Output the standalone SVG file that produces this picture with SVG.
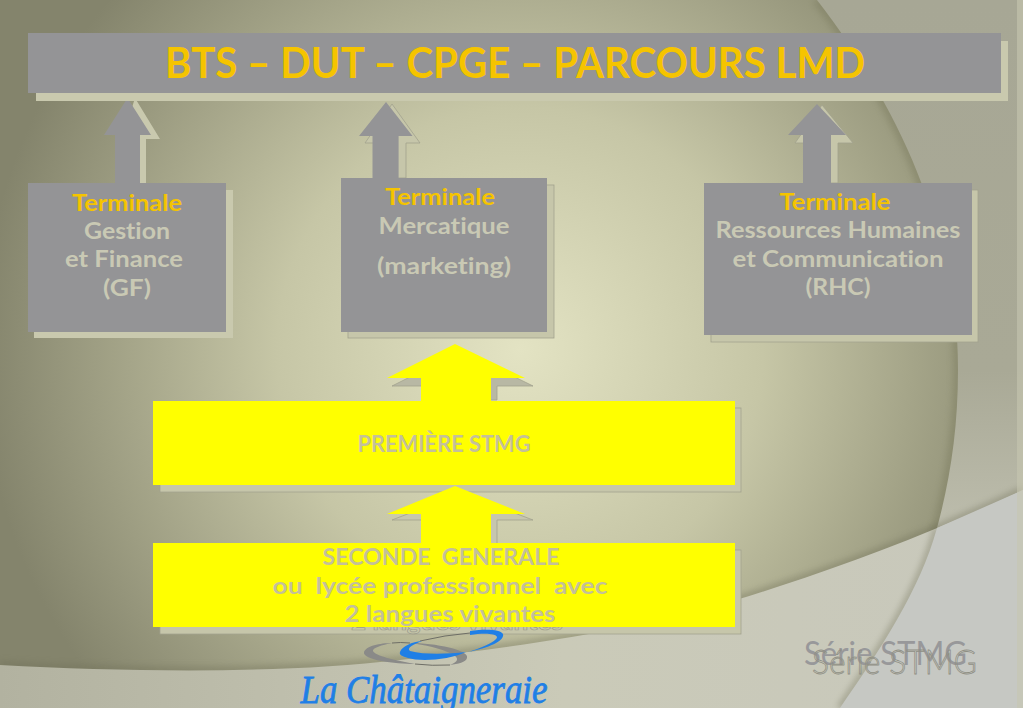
<svg xmlns="http://www.w3.org/2000/svg" width="1023" height="708" viewBox="0 0 1023 708">
<style>
text{font-family:"Lato","Liberation Sans",sans-serif;font-weight:700;text-anchor:middle;font-variant-ligatures:none}
.grey{fill:#949496}
.sh{fill:#c9c9ae}
.shl{fill:#c6c6aa;stroke:#a2a28e;stroke-width:.8}
.ye{fill:#ffff00}
.gold{fill:#f5c400;font-size:23px}
.pale{fill:#c9c9b4;font-size:23px}
.ypale{fill:#c4c09a;font-size:23px}
</style>
<defs>
<radialGradient id="bg" gradientUnits="userSpaceOnUse" cx="520" cy="350" r="540">
<stop offset="0" stop-color="#e3e3c3"/><stop offset="0.45" stop-color="#c6c6a6"/><stop offset="1" stop-color="#84846c"/>
</radialGradient>
<linearGradient id="corner" gradientUnits="userSpaceOnUse" x1="0" y1="0" x2="0" y2="530"><stop offset="0" stop-color="#a7a795"/><stop offset="0.7" stop-color="#a9a996"/><stop offset="1" stop-color="#bdbdad"/></linearGradient>
<linearGradient id="band" gradientUnits="userSpaceOnUse" x1="0" y1="600" x2="1023" y2="600"><stop offset="0" stop-color="#b2b2a0"/><stop offset="0.55" stop-color="#cacab8"/><stop offset="1" stop-color="#c8c8bc"/></linearGradient>
<filter id="soft" x="-10%" y="-10%" width="120%" height="120%"><feGaussianBlur stdDeviation="3"/></filter>
</defs>
<g id="background">
<rect width="1023" height="708" fill="url(#bg)"/>
<path d="M817 0C860 55 900 125 921 182C945 240 958 300 958 370C958 430 950 480 937 528C920 590 880 650 840 708" fill="none" stroke="#77775a" stroke-width="10" opacity=".4" filter="url(#soft)"/>
<path d="M817 0C860 55 900 125 921 182C945 240 958 300 958 370C958 430 950 480 937 528C920 590 880 650 840 708H1023V0Z" fill="url(#corner)"/>
<path d="M0 665C130 672 280 674 400 660C530 645 650 630 780 586C860 560 950 525 1023 490" fill="none" stroke="#6e6e56" stroke-width="8" opacity=".4" filter="url(#soft)"/>
<path d="M0 665C130 672 280 674 400 660C530 645 650 630 780 586C860 560 950 525 1023 490V708H0Z" fill="url(#band)"/>
<path d="M937 528C920 590 880 650 840 708" fill="none" stroke="#77775f" stroke-width="7" opacity=".45" filter="url(#soft)"/>
<path d="M937 528C920 590 880 650 840 708H1023V490Z" fill="#c6c8c3"/>
<rect x="1017" width="6" height="708" fill="#c6c6b0" opacity=".6"/>
</g>
<g id="n-premiere">
<rect x="160" y="408" width="581" height="84" class="shl"/>
<rect x="153" y="401" width="582" height="84" class="ye"/>
<text x="444" y="452" class="ypale" textLength="173" lengthAdjust="spacingAndGlyphs">PREMIÈRE STMG</text>
</g>
<g id="connectors">
<path d="M135 98L160 139H146V183H122V139Z" class="sh"/>
<path d="M127.500 98L151 135H140V183H115V135H104Z" class="grey"/>
<path d="M392 104L420 143H406V178H379V143H365Z" class="shl"/>
<path d="M386 102L412.500 136H398.600V178H372.500V136H359Z" class="grey"/>
<path d="M822 105L853 143H838V183H810V143H795Z" class="shl"/>
<path d="M817 104L846 135H831V183H803V135H788Z" class="grey"/>
<path d="M462 351L533 386H497V400H428V386H392Z" fill="#b8b8a4" stroke="#a2a28e" stroke-width=".8"/>
<path d="M455 344L525 378H491V403H421V378H387Z" class="ye"/>
<path d="M462 493L533 520H497V544H428V520H392Z" fill="#c6c6ae" stroke="#a2a28e" stroke-width=".8"/>
<path d="M455 486L525 514H491V545H421V514H387Z" class="ye"/>
</g>
<g id="n-top">
<rect x="36" y="41" width="972" height="60" class="sh"/>
<rect x="28" y="33" width="973" height="60" class="grey"/>
<text x="515" y="78" fill="#f5c400" font-size="42" textLength="700" lengthAdjust="spacingAndGlyphs">BTS – DUT – CPGE – PARCOURS LMD</text>
</g>
<g id="n-gf">
<rect x="34" y="190" width="199" height="148" class="sh"/>
<rect x="28" y="183" width="198" height="149" class="grey"/>
<text x="127" y="211" class="gold" textLength="110" lengthAdjust="spacingAndGlyphs">Terminale</text>
<text x="127" y="239" class="pale" textLength="86" lengthAdjust="spacingAndGlyphs">Gestion</text>
<text x="124" y="267" class="pale" textLength="118" lengthAdjust="spacingAndGlyphs">et Finance</text>
<text x="127" y="296" class="pale" textLength="48" lengthAdjust="spacingAndGlyphs">(GF)</text>
</g>
<g id="n-merc">
<rect x="348" y="185" width="206" height="153" class="shl"/>
<rect x="341" y="178" width="206" height="154" class="grey"/>
<text x="440" y="205" class="gold" textLength="110" lengthAdjust="spacingAndGlyphs">Terminale</text>
<text x="444" y="234" class="pale" textLength="131" lengthAdjust="spacingAndGlyphs">Mercatique</text>
<text x="444" y="274" class="pale" textLength="134" lengthAdjust="spacingAndGlyphs">(marketing)</text>
</g>
<g id="n-rhc">
<rect x="711" y="190" width="267" height="152" class="shl"/>
<rect x="704" y="183" width="268" height="152" class="grey"/>
<text x="835" y="210" class="gold" textLength="111" lengthAdjust="spacingAndGlyphs">Terminale</text>
<text x="838" y="238" class="pale" textLength="245" lengthAdjust="spacingAndGlyphs">Ressources Humaines</text>
<text x="838" y="267" class="pale" textLength="211" lengthAdjust="spacingAndGlyphs">et Communication</text>
<text x="838" y="295" class="pale" textLength="65" lengthAdjust="spacingAndGlyphs">(RHC)</text>
</g>
<g id="n-seconde">
<rect x="160" y="550" width="581" height="84" class="shl"/>
<text x="457" y="630" fill="none" stroke="#9c9c8c" stroke-width=".7" font-size="23" textLength="212" lengthAdjust="spacingAndGlyphs">2 langues vivantes</text>
<rect x="153" y="543" width="582" height="84" class="ye"/>
<text x="441" y="565" class="ypale" textLength="237" lengthAdjust="spacingAndGlyphs" xml:space="preserve">SECONDE  GENERALE</text>
<text x="440" y="594" class="ypale" textLength="335" lengthAdjust="spacingAndGlyphs" xml:space="preserve">ou  lycée professionnel  avec</text>
<text x="450" y="622" class="ypale" textLength="211" lengthAdjust="spacingAndGlyphs">2 langues vivantes</text>
</g>
<g id="logo">
<path d="M364 652C366 646 380 643 392 643C382 645 372 648 373 651C375 656 395 660 415 664C395 664 362 660 364 652Z" fill="#8a8a88"/>
<path d="M410 643C435 643 470 650 467 658C466 662 458 664 450 665C458 662 460 658 452 654C440 648 425 645 410 643Z" fill="#8a8a88"/>
<path d="M392 643Q400 642 410 643M415 664Q432 666 450 665M420 641Q445 635 470 633" fill="none" stroke="#6e6e66" stroke-width="1"/>
<path d="M400 652C402 646 412 642 422 641C414 644 406 648 410 651C425 655 448 654 466 652C450 660 420 662 408 658C402 656 399 655 400 652Z" fill="#1f7fe6"/>
<path d="M470 631C485 629 500 629 503 634C505 641 488 648 468 652C482 648 497 641 497 637C496 633 482 633 470 635Z" fill="#1f7fe6"/>
<text x="424" y="703" fill="#1f7fe6" stroke="#1f7fe6" stroke-width=".8" font-size="40" textLength="247" lengthAdjust="spacingAndGlyphs" style="font-family:'Liberation Serif',serif;font-style:italic;font-weight:400">La Châtaigneraie</text>
</g>
<g id="serie">
<text x="885.500" y="665" fill="#98989a" font-size="33" textLength="163" lengthAdjust="spacingAndGlyphs" style="font-weight:400">Série STMG</text>
<text x="894.500" y="674" fill="none" stroke="#8f8f84" stroke-width=".8" font-size="34" textLength="165" lengthAdjust="spacingAndGlyphs" style="font-weight:300">Série STMG</text>
</g>
</svg>
